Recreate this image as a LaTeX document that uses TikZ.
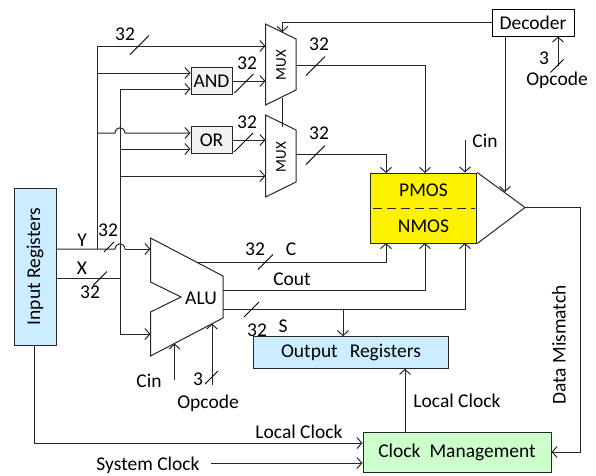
\documentclass[tikz,border=0pt]{standalone}
\usepackage{fontspec}
\setmainfont{Carlito}
\usetikzlibrary{positioning,arrows.meta}
\definecolor{regblue}{HTML}{CCECFF}
\definecolor{clkgreen}{HTML}{CCFFCC}
\definecolor{gatefill}{HTML}{F2F2F2}
\definecolor{wirecol}{HTML}{262626}
\begin{document}
\begin{tikzpicture}[x=1pt,y=-1pt,font=\fontsize{19.5}{21}\selectfont,
  >={Straight Barb[length=5pt,width=11pt]},line width=1pt]
\tikzstyle{wire}=[draw=wirecol,->]
\tikzstyle{line}=[draw=wirecol]
\tikzstyle{slash}=[draw=black,line width=0.8pt]
\tikzstyle{reg}=[draw=wirecol,fill=regblue,inner sep=0pt]
\tikzstyle{gate}=[draw=wirecol,fill=gatefill,inner sep=0pt,minimum width=41pt,minimum height=27.5pt]
\tikzstyle{lbl}=[inner sep=0pt]
\tikzstyle{muxlbl}=[inner sep=0pt,rotate=90,font=\fontsize{15}{16}\selectfont]
\useasboundingbox (0,0) rectangle (596,475);

% registers and gates
\node[reg,rotate=90,minimum width=157pt,minimum height=42pt] (inreg) at (35,266.5) {Input Registers};
\node[gate] (and) at (211.5,81) {AND};
\node[gate] (or) at (211.5,140) {OR};
\node[draw=black,fill=white,inner sep=0pt,minimum width=82pt,minimum height=27pt] (dec) at (533,22.5) {Decoder};
\node[reg,minimum width=194.5pt,minimum height=31.5pt] (outreg) at (351,352.5) {Output\hspace{12pt}Registers};
\node[reg,fill=clkgreen,minimum width=188pt,minimum height=40pt] (clk) at (457,452) {Clock\hspace{9pt}Management};

% comparator
\node[draw=wirecol,fill=yellow,inner sep=0pt,minimum width=106.5pt,minimum height=70pt] (cmp) at (423.5,208) {};
\draw[line,dashed,dash pattern=on 9pt off 5pt] (373,208) -- (475,208);
\node[lbl,above=11pt of cmp.center] (pmos) {PMOS};
\node[lbl,below=11pt of cmp.center] (nmos) {NMOS};
\coordinate (tip) at (525,207.5);
\draw[line] (cmp.north east) -- (tip) -- (cmp.south east);

% muxes and alu
\draw[line] (265.5,24) -- (296,39) -- (296,90) -- (265.5,105) -- cycle;
\draw[line] (265.5,115) -- (296,130) -- (296,182) -- (265.5,197) -- cycle;
\node[muxlbl] (muxa) at (281,65) {MUX};
\node[muxlbl] (muxb) at (281,157) {MUX};
\draw[line] (150.5,238) -- (223,276) -- (223,318) -- (150.5,356) -- (150.5,312)
  -- (181,297) -- (150.5,282) -- cycle;
\node[lbl] (alu) at (201,298) {ALU};

% junctions
\coordinate (busY) at (97,249);
\coordinate (busX) at (120,278);
\coordinate (muxaout) at (296,65);
\coordinate (muxbout) at (296,154.5);
\coordinate (muxain) at (265.5,46);
\coordinate (muxbin) at (265.5,176);
\coordinate (aluy) at (150.5,249);
\coordinate (alux) at (150.5,334);
\coordinate (aluC) at (197,262);
\coordinate (aluCout) at (223,290);
\coordinate (aluS) at (223,309.5);

% buses
\draw[line] (inreg.south |- busY) -- (115,249) .. controls (116,242) and (124,242) .. (125,249);
\draw[wire] (125,249) -- (aluy);
\draw[line] (inreg.south |- busX) -- (busX);
\draw[line] (busY) -- (97,46);
\draw[wire] (97,46) -- (muxain);
\draw[wire] (97,73) -- (and.west |- 0,73);
\draw[wire] (97,133) -- (115,133) .. controls (116,126) and (124,126) .. (125,133) -- (or.west |- 0,133);
\draw[line] (120,89) -- (busX);
\draw[wire] (busX) |- (alux);
\draw[wire] (120,89) -- (and.west |- 0,89);
\draw[wire] (120,149) -- (or.west |- 0,149);
\draw[wire] (120,176) -- (muxbin);
\draw[wire] (and.east) -- (265.5,81);
\draw[wire] (or.east) -- (265.5,140);

% mux select from decoder
\draw[wire] (dec.west) -- (282.5,22.5) -- (282.5,32);
\draw[line] (282.5,98) -- (282.5,127);
\draw[wire] (505,36) -- (505,192);
\coordinate (decop) at (558,66);
\draw[wire] (decop) -- (dec.south -| decop);

% into comparator
\draw[wire] (muxaout) -| (425,173);
\draw[wire] (muxbout) -| (386,173);
\coordinate (cmpcin) at (465,140);
\draw[wire] (cmpcin) -- (cmp.north -| cmpcin);
\draw[wire] (aluC) -| (386,243);
\draw[wire] (aluCout) -| (425,243);
\draw[wire] (aluS) -| (465,243);
\draw[wire] (343,309.5) -- (outreg.north -| 343,0);

% alu control
\draw[wire] (174.5,380) -- (174.5,343.5);
\draw[wire] (212,385) -- (212,323.5);

% clocks
\draw[wire] (tip) -| (580,452) -- (clk.east);
\draw[wire] (405,432) -- (outreg.south -| 405,0);
\draw[wire] (inreg.west -| 34.5,0) |- (clk.west |- 0,443);
\coordinate (sysclk) at (211,463);
\draw[wire] (sysclk) -- (clk.west |- sysclk);

% bus width ticks
\foreach \sx/\sy/\r in {139.5/45/9.5,244/83.5/9.5,243.5/142.5/9.5,315.5/66/9.5,315.5/155/9.5,
  265.5/262/7.5,251.5/309.5/7.5,100/278.5/7,109/247/5,211.5/377.5/6.5,557/66/6.5}
  \draw[slash] (\sx-\r,\sy+\r) -- (\sx+\r,\sy-\r);

% labels
\node[lbl] (w1) at (125,34) {32};
\node[lbl] (w2) at (247,63) {32};
\node[lbl] (w3) at (247,122) {32};
\node[lbl] (w4) at (319,44) {32};
\node[lbl] (w5) at (319,133) {32};
\node[lbl] (w6) at (108,230.5) {32};
\node[lbl] (w7) at (90,292) {32};
\node[lbl] (w8) at (255,249) {32};
\node[lbl] (w9) at (257,330) {32};
\node[lbl] (ly) at (82,240) {Y};
\node[lbl] (lx) at (82,268) {X};
\node[lbl] (lc) at (291,249) {C};
\node[lbl] (lcout) at (292,279) {Cout};
\node[lbl] (ls) at (283,326) {S};
\node[lbl] (cina) at (485,141) {Cin};
\node[lbl] (cinb) at (149,381) {Cin};
\node[lbl] (n3a) at (544,58) {3};
\node[lbl] (n3b) at (198,379) {3};
\node[lbl] (opa) at (557,80) {Opcode};
\node[lbl] (opb) at (208,403) {Opcode};
\node[lbl] (lca) at (299,432) {Local Clock};
\node[lbl] (lcb) at (457,401) {Local Clock};
\node[lbl] (sys) at (148,465.5) {System Clock};
\node[lbl,rotate=90] (mis) at (559,345) {Data Mismatch};
\end{tikzpicture}
\end{document}
